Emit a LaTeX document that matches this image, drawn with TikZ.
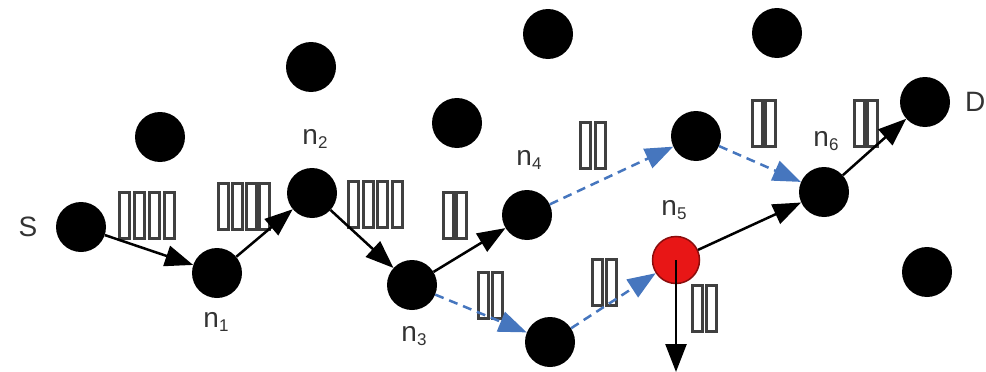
\documentclass[tikz,border=0pt]{standalone}
\usepackage{fontspec}
\setmainfont{Liberation Sans}
\usetikzlibrary{arrows.meta}
\definecolor{pathblue}{RGB}{70,118,190}
\definecolor{nodered}{RGB}{232,22,22}
\newcommand\nlab[1]{n\raisebox{-4pt}{\fontsize{17}{17}\selectfont #1}}
\tikzset{
  dot/.style={circle,fill=black,minimum size=50pt,inner sep=0pt},
  rednode/.style={circle,fill=nodered,draw=nodered!60!black,line width=1.5pt,minimum size=47pt,inner sep=0pt},
  lab/.style={font=\fontsize{28}{28}\selectfont,inner sep=0pt,text=black!80},
  pkt/.style={rectangle,draw=black!75,fill=white,line width=3pt,minimum width=10pt,minimum height=46pt,inner sep=0pt},
  link/.style={line width=2.5pt,-{Triangle[length=28pt,width=21pt]}},
  blink/.style={link,pathblue,dash pattern=on 9pt off 6pt},
}
\begin{document}
\begin{tikzpicture}[x=1pt,y=-1pt]
\useasboundingbox (0,0) rectangle (986,372);
% packets
\foreach \k/\y/\xs in {a/215/{124,139,154,169}, b/206/{223,237,251,264}, c/204/{353,368,382,397},
  d/215/{448,461}, e/145/{585,600}, f/295/{483,497}, g/282/{597,611}, h/123/{757,770},
  i/123/{859,872}, j/308/{697,711}}{
  \foreach \x [count=\i] in \xs {
    \node[pkt] (p\k\i) at (\x,\y) {};
  }
}
% idle nodes
\node[dot] (i1) at (160,137) {};
\node[dot] (i2) at (311,67) {};
\node[dot] (i3) at (457,123) {};
\node[dot] (i4) at (548,34) {};
\node[dot] (i5) at (777,33) {};
\node[dot] (i6) at (927,272) {};
% path nodes
\node[dot] (S) at (81,227) {};
\node[dot] (n1) at (217,273) {};
\node[dot] (n2) at (312,193) {};
\node[dot] (n3) at (412,285) {};
\node[dot] (n4) at (527,215) {};
\node[dot] (b) at (550,342) {};
\node[dot] (u) at (696,136) {};
\node[rednode] (n5) at (676,260) {};
\node[dot] (n6) at (824,192) {};
\node[dot] (D) at (925,102) {};
\coordinate (out) at (676,372);
% labels
\node[lab] (lS) at (28,227) {S};
\node[lab,anchor=west] (lD) at (965,102) {D};
\node[lab] (l1) at (216,322) {\nlab{1}};
\node[lab] (l2) at (315,139) {\nlab{2}};
\node[lab] (l3) at (414,336) {\nlab{3}};
\node[lab] (l4) at (529,160) {\nlab{4}};
\node[lab] (l5) at (674,210) {\nlab{5}};
\node[lab] (l6) at (826,141) {\nlab{6}};
% links
\draw[link] (S) -- (n1);
\draw[link] (n1) -- (n2);
\draw[link] (n2) -- (n3);
\draw[link] (n3) -- (n4);
\draw[blink] (n3) -- (b);
\draw[blink] (b) -- (n5);
\draw[blink] (n4) -- (u);
\draw[blink] (u) -- (n6);
\draw[link] (n5) -- (n6);
\draw[link] (n6) -- (D);
\draw[link] (n5.center) -- (out);
\end{tikzpicture}
\end{document}
